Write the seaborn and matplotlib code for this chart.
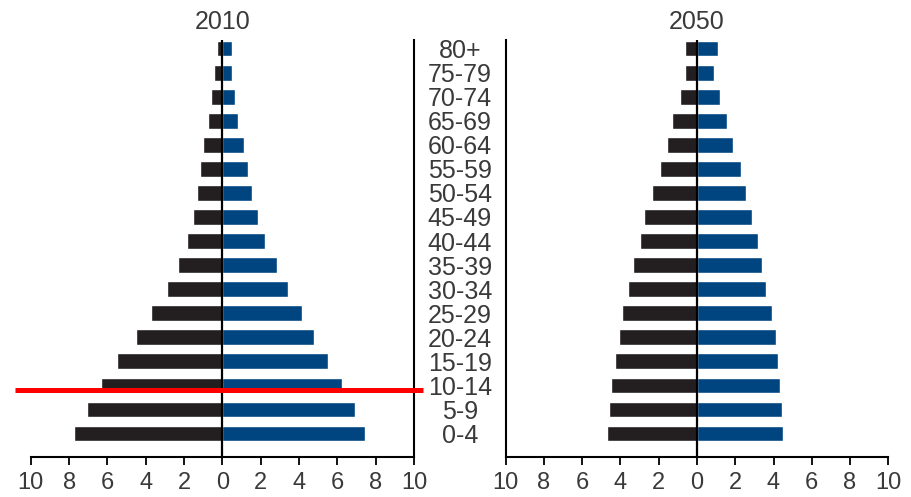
import numpy as np
import pandas as pd
import matplotlib
matplotlib.use("Agg")
import matplotlib.pyplot as plt
import seaborn as sns

# age groups, top to bottom
ages = ["80+", "75-79", "70-74", "65-69", "60-64", "55-59", "50-54", "45-49",
        "40-44", "35-39", "30-34", "25-29", "20-24", "15-19", "10-14", "5-9", "0-4"]

# percent of population, 2010
male_2010 = [0.30, 0.44, 0.61, 0.75, 1.02, 1.19, 1.33, 1.52,
             1.83, 2.32, 2.90, 3.72, 4.49, 5.50, 6.34, 7.09, 7.72]
female_2010 = [0.50, 0.50, 0.64, 0.84, 1.15, 1.34, 1.55, 1.85,
               2.23, 2.86, 3.43, 4.14, 4.76, 5.53, 6.23, 6.93, 7.43]

# percent of population, 2050
male_2050 = [0.63, 0.63, 0.87, 1.33, 1.57, 1.96, 2.34, 2.78,
             2.97, 3.35, 3.60, 3.93, 4.10, 4.31, 4.50, 4.61, 4.68]
female_2050 = [1.08, 0.89, 1.20, 1.59, 1.90, 2.28, 2.55, 2.86,
               3.17, 3.42, 3.61, 3.94, 4.12, 4.26, 4.33, 4.45, 4.50]

xticks = list(range(-10, 11, 2))
xtick_labels = [str(abs(t)) for t in xticks]

# red marker line on the 2010 panel (data coords)
red_y = 14.21
red_x = (-10.82, 10.49)

colors = {"male": "#231f20", "female": "#00457f"}
text_color = "#3a3a3a"


def make_df(male, female):
    return pd.DataFrame({
        "age": ages * 2,
        "value": [-m for m in male] + list(female),
        "sex": ["male"] * len(ages) + ["female"] * len(ages),
    })


sns.set_style("ticks")
plt.rcParams["font.family"] = ["Liberation Sans", "DejaVu Sans"]
plt.rcParams["text.color"] = text_color
plt.rcParams["xtick.color"] = "black"
plt.rcParams["xtick.labelcolor"] = text_color
plt.rcParams["ytick.labelcolor"] = text_color

fig = plt.figure(figsize=(9.12, 4.97), dpi=100)
ax1 = fig.add_axes([0.0337, 0.0805, 0.4203, 0.839])
ax2 = fig.add_axes([0.5545, 0.0805, 0.4195, 0.839])

for ax, male, female, title in [(ax1, male_2010, female_2010, "2010"),
                                (ax2, male_2050, female_2050, "2050")]:
    df = make_df(male, female)
    sns.barplot(data=df, x="value", y="age", hue="sex", order=ages,
                palette=colors, dodge=False, width=0.65, legend=False,
                saturation=1, ax=ax)
    ax.axvline(0, color="black", lw=1.6, zorder=5)
    ax.set_xlim(-10, 10)
    ax.set_ylim(16.98, -0.36)
    ax.set_xticks(xticks)
    ax.set_xticklabels(xtick_labels, fontsize=17)
    ax.tick_params(axis="x", direction="out", length=6, width=1.3, pad=5,
                   bottom=True, color="black")
    ax.set_xlabel("")
    ax.set_ylabel("")
    ax.set_title(title, fontsize=18, pad=8, color=text_color)
    ax.spines["top"].set_visible(False)
    for s in ax.spines.values():
        s.set_linewidth(1.5)
        s.set_color("black")

ax1.spines["left"].set_visible(False)
ax1.set_yticks([])
ax2.spines["right"].set_visible(False)
ax2.set_yticks(range(len(ages)))
ax2.set_yticklabels(ages, fontsize=18, ha="center")
ax2.tick_params(axis="y", length=0, pad=33)

ax1.plot(red_x, [red_y, red_y], color="#ff0000", lw=3.6, clip_on=False,
         solid_capstyle="butt", zorder=6)

fig.savefig("out.png", dpi=100)
